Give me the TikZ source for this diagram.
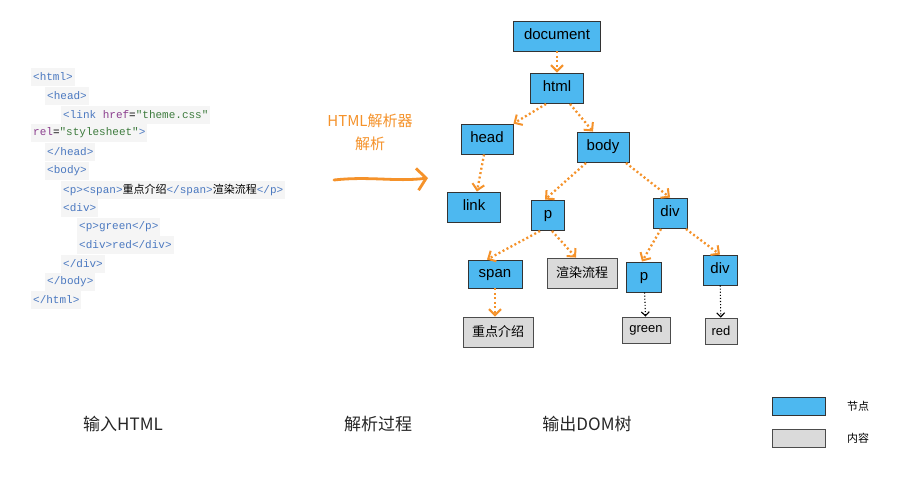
\documentclass[tikz,border=0pt]{standalone}
\usepackage{fontspec}
\setmainfont{Liberation Sans}
\newfontfamily\cjk{Noto Sans CJK SC}
\newfontfamily\mono{Liberation Mono}
\usetikzlibrary{arrows.meta}
\definecolor{nblue}{HTML}{4DB8F0}
\definecolor{ngray}{HTML}{DADADA}
\definecolor{orng}{HTML}{F5922A}
\definecolor{tagc}{HTML}{4A78C0}
\definecolor{attc}{HTML}{8B3E8E}
\definecolor{strc}{HTML}{3D7B3D}
\begin{document}
\begin{tikzpicture}[x=1pt,y=-1pt,
  nd/.style={draw=black!80,fill=nblue,line width=0.9pt,minimum height=30pt,inner xsep=2pt,text height=1.5ex,text depth=0.3ex,font=\fontsize{15}{15}\selectfont},
  ct/.style={draw=black!70,fill=ngray,line width=0.9pt,minimum height=30pt,inner xsep=2pt,font=\cjk\fontsize{13}{13}\selectfont},
  oa/.style={draw=orng,line width=2.3pt,dash pattern=on 2pt off 2.5pt,-{Straight Barb[length=6pt,width=12pt,line width=2pt]}},
  ba/.style={draw=black,line width=1.1pt,dotted,-{Straight Barb[length=4pt,width=8pt,line width=1.1pt]}},
  cl/.style={anchor=west,font=\mono\fontsize{11}{11}\selectfont,fill=black!4,inner sep=2pt,minimum height=18pt},
  lb/.style={font=\cjk\fontsize{17}{17}\selectfont,text=black!85}]
\useasboundingbox (0,0) rectangle (900,491);
\fill[white] (0,0) rectangle (900,491);
% code
\node[cl] (c1) at (31,77) {\color{tagc}<html>};
\node[cl] (c2) at (45,96) {\color{tagc}<head>};
\node[cl] (c3) at (61,115) {\color{tagc}<link \color{attc}href\color{black}=\color{strc}"theme.css"};
\node[cl] (c4) at (31,133) {\color{attc}rel\color{black}=\color{strc}"stylesheet"\color{tagc}>};
\node[cl] (c5) at (45,152) {\color{tagc}</head>};
\node[cl] (c6) at (45,171) {\color{tagc}<body>};
\node[cl] (c7) at (61,190) {\color{tagc}<p><span>\color{black}{\cjk 重点介绍}\color{tagc}</span>\color{black}{\cjk 渲染流程}\color{tagc}</p>};
\node[cl] (c8) at (61,208) {\color{tagc}<div>};
\node[cl] (c9) at (77,227) {\color{tagc}<p>green</p>};
\node[cl] (c10) at (77,245) {\color{tagc}<div>red</div>};
\node[cl] (c11) at (61,264) {\color{tagc}</div>};
\node[cl] (c12) at (45,282) {\color{tagc}</body>};
\node[cl] (c13) at (31,300) {\color{tagc}</html>};
% middle
\node[font=\cjk\fontsize{15}{15}\selectfont,text=orng] (t1) at (370,121) {HTML解析器};
\node[font=\cjk\fontsize{15}{15}\selectfont,text=orng] (t2) at (370,144) {解析};
\coordinate (a1) at (334,180);
\coordinate (a2) at (428,178);
\draw[orng,line width=2.8pt,line cap=round,-{Straight Barb[length=9pt,width=22pt,line width=2.8pt]}] (a1) .. controls (370,176) and (395,182) .. (a2);
% tree
\node[nd,minimum width=87pt] (doc) at (557,36) {document};
\node[nd,minimum width=53pt] (html) at (557,88) {html};
\node[nd,minimum width=52pt] (head) at (487,139) {head};
\node[nd,minimum width=52pt] (body) at (603,147) {body};
\node[nd,minimum width=53pt] (link) at (474,207) {link};
\node[nd,minimum width=33pt] (p) at (548,215) {p};
\node[nd,minimum width=34pt] (div) at (670,213) {div};
\node[nd,minimum width=54pt,minimum height=28pt] (span) at (495,274) {span};
\node[ct,minimum width=70pt] (xr) at (582,273) {渲染流程};
\node[nd,minimum width=35pt] (p2) at (644,277) {p};
\node[nd,minimum width=34pt] (div2) at (720,270) {div};
\node[ct,minimum width=70pt] (zd) at (498,332) {重点介绍};
\node[ct,font=\fontsize{13}{13}\selectfont,minimum height=26pt,minimum width=48pt] (gr) at (646,330) {green};
\node[ct,font=\fontsize{13}{13}\selectfont,minimum height=26pt,minimum width=32pt] (rd) at (721,331) {red};
\coordinate (h1) at (546,104);
\coordinate (h2) at (570,104);
\coordinate (b1) at (586,163);
\coordinate (b2) at (626,163);
\coordinate (p1) at (540,231);
\coordinate (p3) at (552,231);
\coordinate (d1) at (661,229);
\coordinate (d2) at (686,229);
\draw[oa] (doc) -- (html);
\draw[oa] (h1) -- (head.north east);
\draw[oa] (h2) -- ([xshift=-10pt]body.north);
\draw[oa] (head) -- (link);
\draw[oa] (b1) -- ([xshift=-3pt]p.north);
\draw[oa] (b2) -- (div.north);
\draw[oa] (p1) -- ([xshift=-8pt]span.north);
\draw[oa] (p3) -- ([xshift=-6pt]xr.north);
\draw[oa] (span) -- ([xshift=-3pt]zd.north);
\draw[oa] (d1) -- ([xshift=-2pt]p2.north);
\draw[oa] (d2) -- (div2.north);
\draw[ba] (p2) -- (gr);
\draw[ba] (div2) -- (rd);
% bottom labels
\node[lb] (l1) at (123,424) {输入HTML};
\node[lb] (l2) at (378,424) {解析过程};
\node[lb] (l3) at (587,424) {输出DOM树};
\node[draw=black!80,fill=nblue,minimum width=53pt,minimum height=18pt] (lg1) at (799,406) {};
\node[draw=black!70,fill=ngray,minimum width=53pt,minimum height=18pt] (lg2) at (799,438) {};
\node[font=\cjk\fontsize{11}{11}\selectfont] (lt1) at (858,406) {节点};
\node[font=\cjk\fontsize{11}{11}\selectfont] (lt2) at (858,438) {内容};
\end{tikzpicture}
\end{document}
